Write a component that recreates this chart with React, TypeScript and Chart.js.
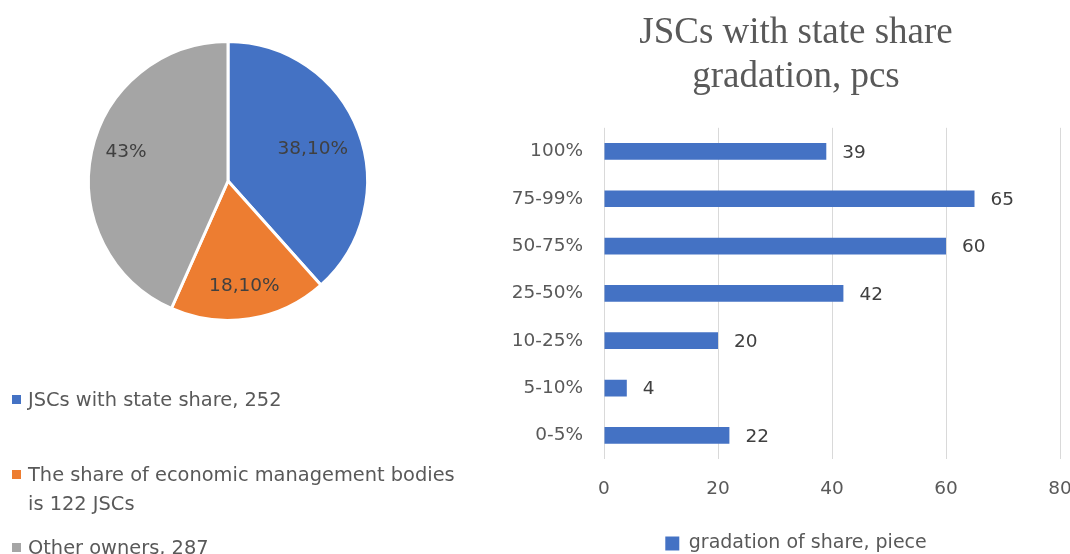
import React, { useEffect, useRef } from "react";
import { Chart, registerables } from "chart.js";

Chart.register(...registerables);

const SANS = "'DejaVu Sans', sans-serif";
const SERIF = "'Liberation Serif', 'Times New Roman', serif";

// Pie data
const pieLabels = [
  "JSCs with state share, 252",
  "The share of economic management bodies is 122 JSCs",
  "Other owners, 287",
];
const pieValues = [38.1, 18.1, 43];
const pieValueLabels = ["38,10%", "18,10%", "43%"];
const pieColors = ["#4472C4", "#ED7D31", "#A5A5A5"];

// Bar data
const barTitleLines = ["JSCs with state share", "gradation, pcs"];
const barCategories = ["100%", "75-99%", "50-75%", "25-50%", "10-25%", "5-10%", "0-5%"];
const barValues = [39, 65, 60, 42, 20, 4, 22];
const barSeriesLabel = "gradation of share, piece";
const barColor = "#4472C4";
const xAxisMin = 0;
const xAxisMax = 80;
const xAxisStep = 20;

function wrapText(ctx: CanvasRenderingContext2D, text: string, maxWidth: number): string[] {
  const words = text.split(" ");
  const lines: string[] = [];
  let cur = "";
  for (const w of words) {
    const test = cur ? cur + " " + w : w;
    if (cur && ctx.measureText(test).width > maxWidth) {
      lines.push(cur);
      cur = w;
    } else {
      cur = test;
    }
  }
  if (cur) lines.push(cur);
  return lines;
}

export default function App() {
  const pieRef = useRef<HTMLCanvasElement>(null);
  const barRef = useRef<HTMLCanvasElement>(null);

  useEffect(() => {
    const pieLabelPlugin = {
      id: "pieValueLabels",
      afterDatasetsDraw(chart: any) {
        const ctx = chart.ctx as CanvasRenderingContext2D;
        const meta = chart.getDatasetMeta(0);
        const radial = [0.65, 0.76, 0.76];
        const angleShift = [0, 0, (4 * Math.PI) / 180];
        ctx.save();
        ctx.font = `18.5px ${SANS}`;
        ctx.fillStyle = "#404040";
        ctx.textAlign = "center";
        ctx.textBaseline = "middle";
        meta.data.forEach((arc: any, i: number) => {
          const p = arc.getProps(["x", "y", "startAngle", "endAngle", "outerRadius"], true);
          const mid = (p.startAngle + p.endAngle) / 2 + angleShift[i];
          const r = p.outerRadius * radial[i];
          ctx.fillText(pieValueLabels[i], p.x + Math.cos(mid) * r, p.y + Math.sin(mid) * r);
        });
        ctx.restore();
      },
    };

    const pieLegendPlugin = {
      id: "pieLegend",
      afterDraw(chart: any) {
        const ctx = chart.ctx as CanvasRenderingContext2D;
        const rows = [399.5, 474.5, 547.5];
        const lineGap = 29;
        ctx.save();
        ctx.font = `19.4px ${SANS}`;
        ctx.textBaseline = "middle";
        ctx.textAlign = "left";
        pieLabels.forEach((label, i) => {
          ctx.fillStyle = pieColors[i];
          ctx.fillRect(12, rows[i] - 4.5, 9, 9);
          ctx.fillStyle = "#595959";
          const lines = wrapText(ctx, label, 440);
          lines.forEach((ln, j) => ctx.fillText(ln, 28, rows[i] + 1 + j * lineGap));
        });
        ctx.restore();
      },
    };

    const pie = new Chart(pieRef.current!, {
      type: "pie",
      data: {
        labels: pieLabels,
        datasets: [
          {
            data: pieValues,
            backgroundColor: pieColors,
            borderColor: "#FFFFFF",
            borderWidth: 3,
          },
        ],
      },
      options: {
        responsive: false,
        animation: false,
        layout: { padding: { left: 87, top: 40, right: 111, bottom: 232 } },
        plugins: {
          legend: { display: false },
          tooltip: { enabled: false },
          title: { display: false },
        },
      },
      plugins: [pieLabelPlugin, pieLegendPlugin],
    });

    const barValuePlugin = {
      id: "barValueLabels",
      afterDatasetsDraw(chart: any) {
        const ctx = chart.ctx as CanvasRenderingContext2D;
        const meta = chart.getDatasetMeta(0);
        ctx.save();
        ctx.font = `18.5px ${SANS}`;
        ctx.fillStyle = "#404040";
        ctx.textAlign = "left";
        ctx.textBaseline = "middle";
        meta.data.forEach((bar: any, i: number) => {
          const p = bar.getProps(["x", "y"], true);
          ctx.fillText(String(barValues[i]), p.x + 16, p.y + 1.5);
        });
        ctx.restore();
      },
    };

    const bar = new Chart(barRef.current!, {
      type: "bar",
      data: {
        labels: barCategories,
        datasets: [
          {
            label: barSeriesLabel,
            data: barValues,
            backgroundColor: barColor,
            borderWidth: 0,
            barPercentage: 0.353,
            categoryPercentage: 1,
          },
        ],
      },
      options: {
        indexAxis: "y",
        responsive: false,
        animation: false,
        layout: { padding: { left: 52, right: 12, top: 0, bottom: 0 } },
        plugins: {
          title: {
            display: true,
            text: barTitleLines,
            color: "#595959",
            font: { family: SERIF, size: 37, weight: "normal", lineHeight: 1.2 },
            padding: { top: 11, bottom: 28 },
          },
          legend: {
            display: true,
            position: "bottom",
            labels: {
              boxWidth: 14,
              boxHeight: 14,
              padding: 10,
              color: "#595959",
              font: { family: SANS, size: 19 },
            },
          },
          tooltip: { enabled: false },
        },
        scales: {
          x: {
            min: xAxisMin,
            max: xAxisMax,
            ticks: {
              stepSize: xAxisStep,
              color: "#595959",
              font: { family: SANS, size: 18.5 },
              padding: 19,
            },
            grid: { color: "#D9D9D9", lineWidth: 1, drawTicks: false },
            border: { display: false },
            afterFit: (s: any) => {
              s.height = 65;
              s.paddingLeft = 0;
              s.paddingRight = 0;
            },
          },
          y: {
            ticks: {
              color: "#595959",
              font: { family: SANS, size: 18.5 },
              padding: 21,
            },
            grid: { display: false, drawTicks: false },
            border: { display: false },
            afterFit: (s: any) => {
              s.width = 72;
              s.paddingTop = 0;
              s.paddingBottom = 0;
              s._computeLabelArea = () => undefined;
            },
          },
        },
      },
      plugins: [barValuePlugin],
    });

    return () => {
      pie.destroy();
      bar.destroy();
    };
  }, []);

  return (
    <div
      style={{
        position: "absolute",
        left: 0,
        top: 0,
        width: 1070,
        height: 554,
        overflow: "hidden",
        background: "#FFFFFF",
      }}
    >
      <canvas
        ref={pieRef}
        width={480}
        height={554}
        style={{ position: "absolute", left: 0, top: 0, width: 480, height: 554 }}
      />
      <canvas
        ref={barRef}
        width={592}
        height={563}
        style={{ position: "absolute", left: 480, top: 0, width: 592, height: 563 }}
      />
    </div>
  );
}
